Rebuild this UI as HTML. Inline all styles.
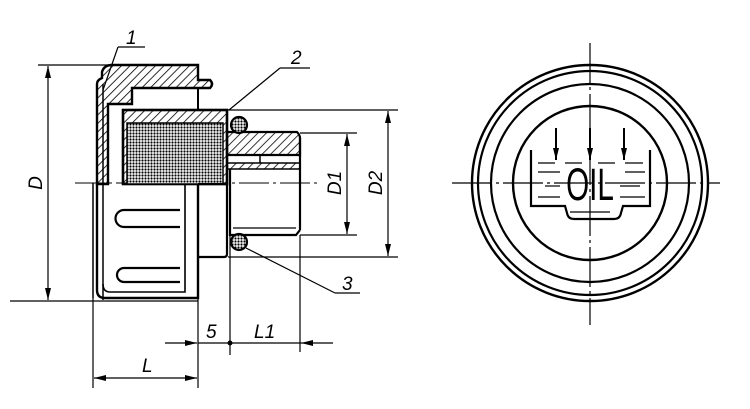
<!DOCTYPE html>
<html><head><meta charset="utf-8"><style>html,body{margin:0;padding:0;background:#fff}svg{display:block}</style></head><body>
<svg width="750" height="409" viewBox="0 0 750 409" xmlns="http://www.w3.org/2000/svg" font-family="Liberation Sans, sans-serif" font-style="italic">
<defs>
<pattern id="h" width="6" height="6" patternUnits="userSpaceOnUse" patternTransform="rotate(45)"><line x1="0" y1="0" x2="0" y2="6" stroke="#000" stroke-width="1.6"/></pattern>
<pattern id="x" width="3" height="3" patternUnits="userSpaceOnUse"><rect width="3" height="3" fill="#fff"/><circle cx="1.5" cy="1.5" r="1.1" fill="#000"/></pattern>
<marker id="a" markerWidth="12" markerHeight="6" refX="12" refY="3" orient="auto" markerUnits="userSpaceOnUse"><path d="M0,0 L12,3 L0,6 z" fill="#000"/></marker>
</defs>
<g stroke="#000" fill="none">
<line x1="75" y1="183" x2="320" y2="183" stroke-width="1" stroke-dasharray="30,4,3,4"/>
<line x1="452" y1="183" x2="720" y2="183" stroke-width="1.2" stroke-dasharray="40,4,3,4"/>
<line x1="590" y1="43" x2="590" y2="325" stroke-width="1.2" stroke-dasharray="40,4,3,4"/>

<path d="M102,72 Q104,65 112,65 L198,65 L198,80 L210,80 Q214,84 210,88 L132,88 L132,104 L108,104 L108,184 L97,184 L97,84 Q97,80 102,78 Z" fill="url(#h)" stroke-width="2.4"/>
<line x1="132" y1="88" x2="198" y2="88" stroke-width="2"/>
<line x1="198" y1="88" x2="198" y2="110" stroke-width="2"/>
<line x1="103" y1="84" x2="103" y2="300" stroke-width="1.5"/>
<rect x="123" y="110" width="104" height="74" fill="url(#h)" stroke-width="2.6"/>
<rect x="127" y="123" width="96" height="61" fill="url(#x)" stroke-width="1.5"/>
<path d="M227,132 L297,132 Q300,135 300,138 L300,155 L227,155 Z" fill="url(#h)" stroke-width="2.2"/>
<rect x="227" y="163" width="73" height="6" fill="url(#h)" stroke-width="1.5"/>
<line x1="260" y1="155" x2="260" y2="163" stroke-width="1.5"/>
<line x1="300" y1="138" x2="300" y2="230" stroke-width="2.2"/>
<path d="M230,169 L230,235 L296,235 L300,230" stroke-width="2.2"/>
<line x1="233" y1="228" x2="296" y2="228" stroke-width="1.2"/>
<circle cx="239" cy="125" r="8" fill="url(#x)" stroke-width="2.2"/>
<circle cx="239" cy="242" r="8" fill="url(#x)" stroke-width="2.2"/>
<path d="M97,184 L97,290 Q97,298 105,298 L198,298 L198,184" stroke-width="2.4"/>
<path d="M103,284 Q103,292 110,292 L185,292 L185,184" stroke-width="1.6"/>
<path d="M198,184 L227,184 L227,254 Q227,257 224,257 L198,257" stroke-width="2.2"/>
<path d="M180,210 L124,210 A8.5,8.5 0 0 0 124,227 L180,227" stroke-width="2.2"/>
<path d="M180,268 L124,268 A7,7 0 0 0 124,282 L180,282" stroke-width="2.2"/>
<line x1="93" y1="183" x2="93" y2="298" stroke-width="1.5"/>

<g stroke-width="1.2">
<line x1="38" y1="65" x2="112" y2="65"/>
<line x1="10" y1="301" x2="198" y2="301"/>
<line x1="48" y1="183" x2="48" y2="66" marker-end="url(#a)"/>
<line x1="48" y1="183" x2="48" y2="300" marker-end="url(#a)"/>
<line x1="228" y1="110" x2="398" y2="110"/>
<line x1="228" y1="257" x2="398" y2="257"/>
<line x1="388" y1="183" x2="388" y2="111" marker-end="url(#a)"/>
<line x1="388" y1="183" x2="388" y2="256" marker-end="url(#a)"/>
<line x1="300" y1="133" x2="357" y2="133"/>
<line x1="300" y1="235" x2="357" y2="235"/>
<line x1="347" y1="183" x2="347" y2="134" marker-end="url(#a)"/>
<line x1="347" y1="183" x2="347" y2="234" marker-end="url(#a)"/>
<line x1="93" y1="298" x2="93" y2="388"/>
<line x1="198" y1="298" x2="198" y2="388"/>
<line x1="230" y1="235" x2="230" y2="355"/>
<line x1="300" y1="235" x2="300" y2="352"/>
<line x1="145" y1="378" x2="94" y2="378" marker-end="url(#a)"/>
<line x1="145" y1="378" x2="197" y2="378" marker-end="url(#a)"/>
<line x1="165" y1="343" x2="197" y2="343" marker-end="url(#a)"/>
<line x1="198" y1="343" x2="230" y2="343"/>
<line x1="230" y1="343" x2="301" y2="343"/>
<line x1="333" y1="343" x2="301" y2="343" marker-end="url(#a)"/>
<line x1="118" y1="47" x2="145" y2="47"/>
<line x1="118" y1="47" x2="103" y2="90"/>
<line x1="280" y1="68" x2="310" y2="68"/>
<line x1="280" y1="68" x2="229" y2="110"/>
<line x1="335" y1="293" x2="360" y2="293"/>
<line x1="335" y1="293" x2="246" y2="248"/>
</g>
<circle cx="230" cy="343" r="2.5" fill="#000" stroke="none"/>

<circle cx="590" cy="183" r="118" stroke-width="2.4"/>
<circle cx="590" cy="183" r="112" stroke-width="2.2"/>
<circle cx="590" cy="183" r="99" stroke-width="2.2"/>
<circle cx="590" cy="183" r="77" stroke-width="2.4"/>
<path d="M531,150 L531,206 L565,206 L567,213 Q568,219 574,219 L614,219 Q620,219 621,213 L623,206 L650,206 L650,150" stroke-width="2.2"/>
<g stroke-width="2">
<line x1="556" y1="128" x2="556" y2="160" marker-end="url(#a)"/>
<line x1="590" y1="128" x2="590" y2="160" marker-end="url(#a)"/>
<line x1="624" y1="128" x2="624" y2="160" marker-end="url(#a)"/>
</g>
<g stroke-width="1.2">
<line x1="538" y1="163" x2="555" y2="163"/><line x1="565" y1="163" x2="582" y2="163"/><line x1="598" y1="163" x2="615" y2="163"/><line x1="625" y1="163" x2="643" y2="163"/>
<line x1="538" y1="172" x2="560" y2="172"/><line x1="625" y1="172" x2="645" y2="172"/>
<line x1="545" y1="186" x2="560" y2="186"/><line x1="620" y1="186" x2="640" y2="186"/>
<line x1="538" y1="197" x2="560" y2="197"/><line x1="620" y1="197" x2="645" y2="197"/>
<line x1="570" y1="212" x2="610" y2="212"/>
</g>
</g>
<text transform="translate(590,200) scale(0.66,1)" font-size="45" font-style="normal" text-anchor="middle" fill="#000">OIL</text>

<g font-size="19" fill="#000">
<text x="126" y="44">1</text>
<text x="291" y="64">2</text>
<text x="342" y="290">3</text>
<text x="142" y="372">L</text>
<text x="206" y="338">5</text>
<text x="254" y="338">L1</text>
<text transform="translate(42,183) rotate(-90)" text-anchor="middle">D</text>
<text transform="translate(341,183) rotate(-90)" text-anchor="middle">D1</text>
<text transform="translate(382,183) rotate(-90)" text-anchor="middle">D2</text>
</g>
</svg>
</body></html>
